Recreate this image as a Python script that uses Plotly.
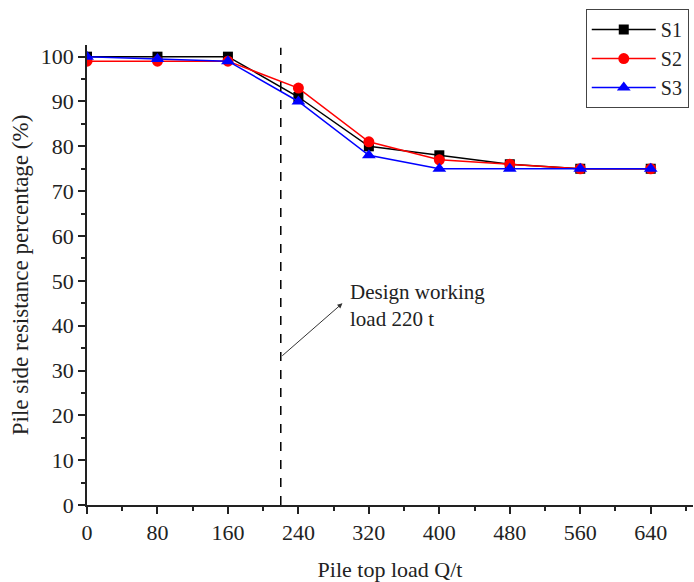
import plotly.graph_objects as go

loads = [0, 80, 160, 240, 320, 400, 480, 560, 640]
s1 = [100, 100, 100, 91, 80, 78, 76, 75, 75]
s2 = [99, 99, 99, 93, 81, 77, 76, 75, 75]
s3 = [100, 99.5, 99, 90, 78, 75, 75, 75, 75]
x_ticks = [0, 80, 160, 240, 320, 400, 480, 560, 640]
y_ticks = [0, 10, 20, 30, 40, 50, 60, 70, 80, 90, 100]
design_load = 220

FONT = "Liberation Serif, Times New Roman, serif"

fig = go.Figure()
fig.add_trace(go.Scatter(x=loads, y=s1, name="S1", mode="lines+markers",
                         line=dict(color="black", width=1.5),
                         marker=dict(symbol="square", size=10, color="black")))
fig.add_trace(go.Scatter(x=loads, y=s2, name="S2", mode="lines+markers",
                         line=dict(color="red", width=1.5),
                         marker=dict(symbol="circle", size=11, color="red")))
fig.add_trace(go.Scatter(x=loads, y=s3, name="S3", mode="lines+markers",
                         line=dict(color="blue", width=1.5),
                         marker=dict(symbol="triangle-up", size=12, color="blue")))

fig.add_shape(type="line", x0=design_load, x1=design_load, y0=0, y1=102,
              xref="x", yref="y", line=dict(color="black", width=1.5, dash="dash"))

fig.add_annotation(x=290, y=45, ax=design_load, ay=33, xref="x", yref="y",
                   axref="x", ayref="y", text="", showarrow=True,
                   arrowhead=2, arrowsize=1, arrowwidth=1, arrowcolor="#333")
fig.add_annotation(x=296, y=44.6, xref="x", yref="y", xanchor="left", yanchor="middle",
                   text="Design working<br>load 220 t", showarrow=False, align="left",
                   font=dict(family=FONT, size=21, color="#222"))

axis_common = dict(showline=True, linecolor="#222", linewidth=1.5, ticks="outside",
                   ticklen=7, tickwidth=1.5, tickcolor="#222", showgrid=False,
                   zeroline=False, mirror=False, automargin=False,
                   tickfont=dict(family=FONT, size=22, color="#222"))

fig.update_xaxes(range=[0, 688], tickvals=x_ticks,
                 minor=dict(dtick=40, tick0=0, ticks="outside", ticklen=4,
                            tickwidth=1.5, tickcolor="#222"),
                 title=dict(text="Pile top load Q/t", font=dict(family=FONT, size=22, color="#222"),
                            standoff=18),
                 **axis_common)
fig.update_yaxes(range=[0, 102.6], tickvals=y_ticks,
                 minor=dict(dtick=5, tick0=0, ticks="outside", ticklen=4,
                            tickwidth=1.5, tickcolor="#222"),
                 title=dict(text="Pile side resistance percentage (%)",
                            font=dict(family=FONT, size=23, color="#222"), standoff=6),
                 **axis_common)

fig.update_layout(
    width=694, height=582,
    margin=dict(l=87, r=1, t=45, b=77),
    plot_bgcolor="white", paper_bgcolor="white",
    legend=dict(x=0.993, y=1.078, xanchor="right", yanchor="top",
                bordercolor="#444", borderwidth=1, bgcolor="white",
                font=dict(family=FONT, size=20, color="#222"),
                itemwidth=64, tracegroupgap=0),
    showlegend=True,
)

fig.write_html("out.html", config={"displayModeBar": False},
               post_script="document.body.style.margin='0';document.body.style.overflow='hidden';")
